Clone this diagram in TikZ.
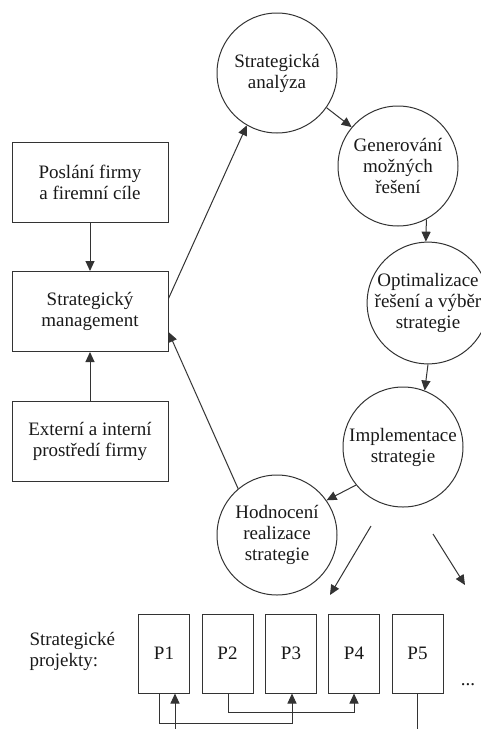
\documentclass[tikz,border=0pt]{standalone}
\usepackage{fontspec}
\setmainfont{Liberation Serif}
\usetikzlibrary{arrows.meta}
\begin{document}
\begin{tikzpicture}[x=1pt,y=-1pt,
  every node/.style={font=\fontsize{19}{21}\selectfont, text=black!90},
  box/.style={draw=black!80, line width=1pt, minimum width=156pt, minimum height=80pt, align=center, inner sep=0pt},
  circ/.style={draw=black!80, line width=1pt, circle, minimum size=120pt, align=center, inner sep=0pt},
  proj/.style={draw=black!80, line width=1pt, minimum width=51pt, minimum height=79pt, inner sep=0pt},
  arr/.style={draw=black!80, line width=1pt, -{Triangle[length=10pt,width=9pt]}},
  ln/.style={draw=black!80, line width=1pt}]
\useasboundingbox (0,0) rectangle (481,729);
\clip (0,0) rectangle (481,729);
% left boxes
\node[box] (pf) at (90,182) {Poslání firmy\\a firemní cíle};
\node[box] (sm) at (90,311.5) {Strategický\\management};
\node[box] (ex) at (90,441.5) {Externí a interní\\prostředí firmy};
% circles
\node[circ] (sa) at (277,73) {Strategická\\analýza};
\node[circ] (gen) at (398,166) {Generování\\možných\\řešení};
\node[circ] (opt) at (428,303) {Optimalizace\\řešení a výběr\\strategie};
\node[circ] (imp) at (403,447) {Implementace\\strategie};
\node[circ] (hod) at (277,535) {Hodnocení\\realizace\\strategie};
% projects
\node[anchor=west, align=left] (lbl) at (26,651) {Strategické\\projekty:};
\node[proj] (p1) at (164,653.5) {P1};
\node[proj] (p2) at (227.5,653.5) {P2};
\node[proj] (p3) at (291,653.5) {P3};
\node[proj] (p4) at (354,653.5) {P4};
\node[proj] (p5) at (417.5,653.5) {P5};
\node (dots) at (468,685) {...};
% arrows left
\draw[arr] (pf.south) -- (sm.north);
\draw[arr] (ex.north) -- (sm.south);
\draw[arr] ([yshift=13pt]sm.east) -- (sa.240);
\draw[arr] (hod.130) -- ([yshift=-20.5pt]sm.east);
% cycle arrows
\draw[arr] (sa.-35) -- (gen.140);
\draw[arr] (gen.-62) -- (opt.92);
\draw[arr] (opt.-90) -- (imp.69);
\draw[arr] (imp.219) -- (hod.35);
% arrows to projects
\coordinate (d1s) at (371,526);
\coordinate (d1e) at (330,595);
\coordinate (d2s) at (433,534);
\coordinate (d2e) at (465,585);
\draw[arr] (d1s) -- (d1e);
\draw[arr] (d2s) -- (d2e);
% project links
\draw[arr] ([xshift=-5pt]p1.south) -- ++(0,30) -| ([xshift=1pt]p3.south);
\draw[arr] ([xshift=0.5pt]p2.south) -- ++(0,19) -| (p4.south);
\draw[arr] (p5.south) -- ++(0,50) -| ([xshift=11pt]p1.south);
\end{tikzpicture}
\end{document}
